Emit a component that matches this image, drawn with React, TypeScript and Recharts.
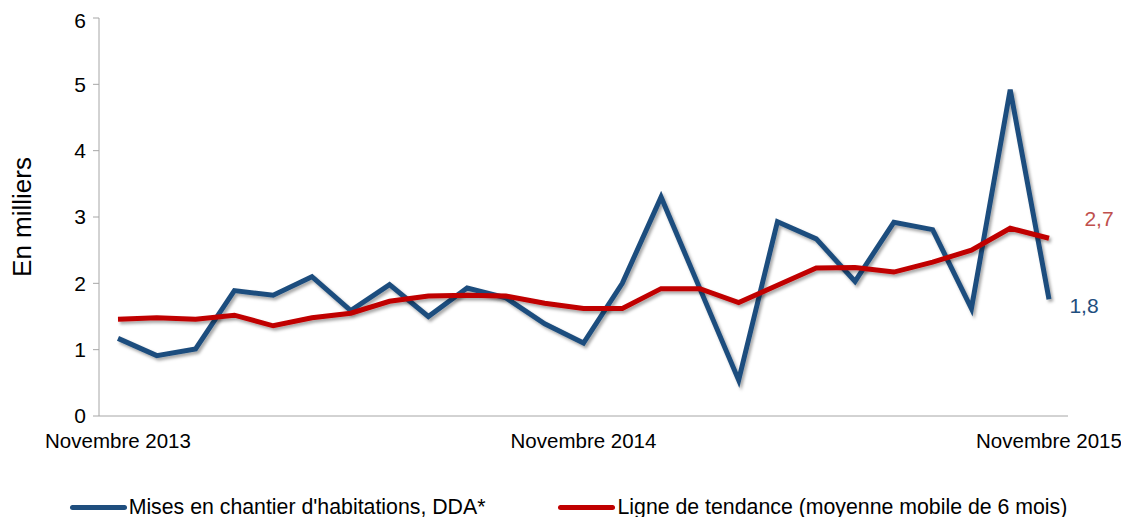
import React from "react";
import { LineChart, Line, XAxis, YAxis, Legend, LabelList } from "recharts";

const months = [
  "Novembre 2013", "Déc 2013", "Jan 2014", "Fév 2014", "Mar 2014", "Avr 2014",
  "Mai 2014", "Juin 2014", "Juil 2014", "Août 2014", "Sep 2014", "Oct 2014",
  "Novembre 2014", "Déc 2014", "Jan 2015", "Fév 2015", "Mar 2015", "Avr 2015",
  "Mai 2015", "Juin 2015", "Juil 2015", "Août 2015", "Sep 2015", "Oct 2015",
  "Novembre 2015",
];

const mises = [
  1.17, 0.91, 1.01, 1.89, 1.82, 2.1, 1.59, 1.98, 1.5, 1.93, 1.78, 1.39,
  1.1, 2.0, 3.3, 1.92, 0.54, 2.93, 2.67, 2.03, 2.92, 2.81, 1.62, 4.92, 1.76,
];

const tendance = [
  1.46, 1.48, 1.46, 1.52, 1.36, 1.48, 1.55, 1.73, 1.81, 1.82, 1.81, 1.7,
  1.62, 1.62, 1.92, 1.92, 1.71, 1.97, 2.23, 2.24, 2.17, 2.32, 2.5, 2.83, 2.68,
];

const yTicks = [0, 1, 2, 3, 4, 5, 6];

const BLUE = "#1F4E7E";
const RED = "#C00000";
const FONT = "'Liberation Sans', Arial, sans-serif";

const data = months.map((m, i) => ({ month: m, mises: mises[i], tendance: tendance[i] }));

// only the last point gets a value label, with a French decimal comma
const lastLabel = (color: string, dx: number, dy: number) => (props: any) => {
  const { x, y, index, value } = props;
  if (index !== data.length - 1) return null;
  return (
    <text x={x + dx} y={y + dy} fill={color} fontSize={21} fontFamily={FONT} textAnchor="middle" dominantBaseline="central">
      {Number(value).toFixed(1).replace(".", ",")}
    </text>
  );
};

const legendItems = [
  { label: "Mises en chantier d'habitations, DDA*", color: BLUE },
  { label: "Ligne de tendance (moyenne mobile de 6 mois)", color: RED },
];

function LegendContent() {
  return (
    <div style={{ display: "flex", justifyContent: "center", alignItems: "center", gap: 73, fontFamily: FONT, fontSize: 21.3, color: "#000" }}>
      {legendItems.map((it) => (
        <div key={it.label} style={{ display: "flex", alignItems: "center" }}>
          <span style={{ display: "inline-block", width: 57, height: 5, borderRadius: 3, background: it.color, marginRight: 2 }} />
          <span>{it.label}</span>
        </div>
      ))}
    </div>
  );
}

export default function App() {
  return (
    <LineChart width={1121} height={509} data={data} margin={{ top: 10, right: 61, left: 0, bottom: 0 }}>
      <defs>
        <filter id="shadow" x="-5%" y="-5%" width="110%" height="120%">
          <feDropShadow dx="2" dy="2.5" stdDeviation="1.5" floodColor="#000" floodOpacity="0.35" />
        </filter>
      </defs>
      <XAxis
        dataKey="month"
        interval={11}
        height={60}
        padding={{ left: 19, right: 19 }}
        tickLine={false}
        tickSize={0}
        tickMargin={17}
        axisLine={{ stroke: "#A6A6A6" }}
        tick={{ fill: "#000", fontSize: 20.5, fontFamily: FONT }}
      />
      <YAxis
        width={91}
        domain={[0, 6]}
        ticks={yTicks}
        tickSize={6}
        tickMargin={7}
        axisLine={{ stroke: "#A6A6A6" }}
        tickLine={{ stroke: "#A6A6A6" }}
        tick={{ fill: "#000", fontSize: 21, fontFamily: FONT }}
        label={{ value: "En milliers", angle: -90, position: "insideLeft", offset: 14, style: { fill: "#000", fontSize: 26, fontFamily: FONT, textAnchor: "middle" } }}
      />
      <Legend verticalAlign="bottom" height={41} content={<LegendContent />} wrapperStyle={{ top: 487, left: 0, width: 1121 }} />
      <Line
        dataKey="mises"
        stroke={BLUE}
        strokeWidth={5}
        dot={false}
        activeDot={false}
        filter="url(#shadow)"
        isAnimationActive={false}
      >
        <LabelList dataKey="mises" content={lastLabel(BLUE, 35, 6)} />
      </Line>
      <Line
        dataKey="tendance"
        stroke={RED}
        strokeWidth={5}
        dot={false}
        activeDot={false}
        filter="url(#shadow)"
        isAnimationActive={false}
      >
        <LabelList dataKey="tendance" content={lastLabel("#C0504D", 50, -20)} />
      </Line>
    </LineChart>
  );
}
